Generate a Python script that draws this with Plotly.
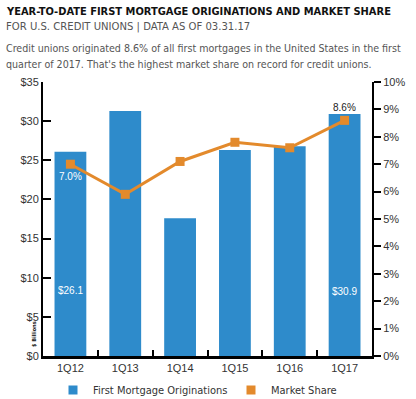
import plotly.graph_objects as go

categories = ["1Q12", "1Q13", "1Q14", "1Q15", "1Q16", "1Q17"]
originations = [26.1, 31.3, 17.6, 26.3, 26.8, 30.9]
market_share = [7.0, 5.9, 7.1, 7.8, 7.6, 8.6]
left_ticks = [0, 5, 10, 15, 20, 25, 30, 35]
left_labels = ["$0", "$5", "$10", "$15", "$20", "$25", "$30", "$35"]
right_ticks = list(range(0, 11))
right_labels = [f"{v}%" for v in right_ticks]

BLUE = "#2E8BCB"
ORANGE = "#E38A2C"
NARROW = "DejaVu Sans Condensed, Liberation Sans Narrow, sans-serif"

W, H = 416, 399
L, R, T, B = 43, 44, 82, 43
PW, PH = W - L - R, H - T - B


def px(x):
    return (x - L) / PW


def py(y):
    return (H - B - y) / PH


fig = go.Figure()
fig.add_trace(go.Bar(
    x=categories, y=originations, name="First Mortgage Originations",
    marker=dict(color=BLUE, line=dict(width=0)), width=0.58, yaxis="y", showlegend=False,
))
fig.add_trace(go.Scatter(
    x=categories, y=market_share, name="Market Share", yaxis="y2",
    mode="lines+markers", line=dict(color=ORANGE, width=3),
    marker=dict(symbol="square", size=9, color=ORANGE), showlegend=False,
))
# legend entries
fig.add_trace(go.Scatter(
    x=[None], y=[None], name="First Mortgage Originations", mode="markers",
    marker=dict(symbol="square", size=9, color=BLUE), legend="legend",
))
fig.add_trace(go.Scatter(
    x=[None], y=[None], name="Market Share", yaxis="y2", mode="markers",
    marker=dict(symbol="square", size=9, color=ORANGE), legend="legend2",
))

ann = []
ann.append(dict(x=px(4), y=py(11), xref="paper", yref="paper", xanchor="left", yanchor="middle",
                text="<b>YEAR-TO-DATE FIRST MORTGAGE ORIGINATIONS AND MARKET SHARE</b>",
                showarrow=False, font=dict(family=NARROW, size=11, color="#111")))
ann.append(dict(x=px(4), y=py(27), xref="paper", yref="paper", xanchor="left", yanchor="middle",
                text="FOR U.S. CREDIT UNIONS | DATA AS OF 03.31.17",
                showarrow=False, font=dict(family=NARROW, size=11.2, color="#555")))
ann.append(dict(x=px(4), y=py(48), xref="paper", yref="paper", xanchor="left", yanchor="middle",
                text="Credit unions originated 8.6% of all first mortgages in the United States in the first",
                showarrow=False, font=dict(family=NARROW, size=10.6, color="#555")))
ann.append(dict(x=px(4), y=py(64), xref="paper", yref="paper", xanchor="left", yanchor="middle",
                text="quarter of 2017. That's the highest market share on record for credit unions.",
                showarrow=False, font=dict(family=NARROW, size=10.6, color="#555")))
ann.append(dict(x=px(34), y=py(334), xref="paper", yref="paper", xanchor="center", yanchor="middle",
                text="<b>$ Billions</b>", textangle=-90, showarrow=False,
                font=dict(family=NARROW, size=5.5, color="#222")))
# data labels
ann.append(dict(x=categories[0], y=market_share[0], xref="x", yref="y2", yshift=-12,
                text="7.0%", showarrow=False, font=dict(family="Arial", size=10, color="white")))
ann.append(dict(x=categories[0], y=8.4, xref="x", yref="y",
                text="$26.1", showarrow=False, font=dict(family="Arial", size=10, color="white")))
ann.append(dict(x=categories[5], y=8.3, xref="x", yref="y",
                text="$30.9", showarrow=False, font=dict(family="Arial", size=10, color="white")))
ann.append(dict(x=categories[5], y=market_share[5], xref="x", yref="y2", yshift=13,
                text="8.6%", showarrow=False, font=dict(family="Arial", size=10, color="#222")))

legend_common = dict(orientation="h", yanchor="middle", y=py(390), xanchor="left",
                     font=dict(size=11, color="#333", family=NARROW), itemwidth=30,
                     bgcolor="rgba(0,0,0,0)")

fig.update_layout(
    width=W, height=H, margin=dict(l=L, r=R, t=T, b=B, pad=0, autoexpand=False),
    paper_bgcolor="white", plot_bgcolor="white",
    font=dict(family="Arial, Liberation Sans, sans-serif", size=11, color="#333"),
    showlegend=True,
    legend=dict(x=px(53), **legend_common),
    legend2=dict(x=px(231), **legend_common),
    xaxis=dict(type="category", showline=True, linecolor="black", linewidth=3, automargin=False,
               ticks="inside", ticklen=6, tickwidth=2, tickcolor="black", tickson="boundaries",
               showgrid=False, tickfont=dict(size=11, color="#333")),
    yaxis=dict(range=[0, 35], tickvals=left_ticks, ticktext=left_labels, showline=True, automargin=False,
               linecolor="black", linewidth=2, ticks="inside", ticklen=8, tickwidth=2,
               tickcolor="black", showgrid=False, zeroline=False, tickfont=dict(size=11, color="#333")),
    yaxis2=dict(range=[0, 10], tickvals=right_ticks, ticktext=right_labels, overlaying="y",
                side="right", showline=True, linecolor="black", linewidth=2, ticks="outside",
                ticklen=7, tickwidth=2, tickcolor="black", showgrid=False, zeroline=False,
                automargin=False, tickfont=dict(size=11, color="#333")),
    annotations=ann,
)

fig.write_html("out.html", config={"displayModeBar": False},
               post_script="document.body.style.margin='0';document.body.style.padding='0';")
